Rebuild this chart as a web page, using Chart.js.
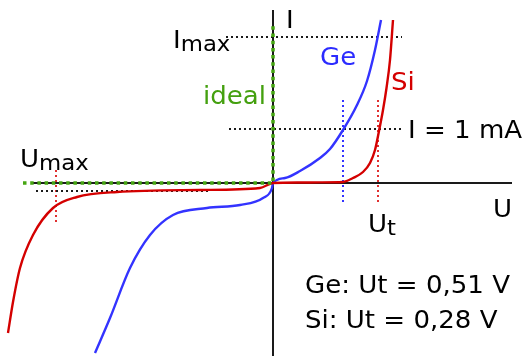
<!DOCTYPE html>
<html>
<head>
<meta charset="utf-8">
<script src="https://cdn.jsdelivr.net/npm/chart.js@4.4.1/dist/chart.umd.min.js"></script>
<style>
  body { margin: 0; background: #fff; }
  canvas { display: block; }
</style>
</head>
<body>
<canvas id="diode" width="524" height="356"></canvas>
<script>
// coordinates: U to the right, I upward, origin where the axes cross
var geU = [-178, -163, -143, -123, -100, -66, -33, -10, -1, 0, 12, 27, 47, 57, 70, 84, 94, 102, 108];
var geI = [-170, -135, -85, -52, -32, -25, -22, -15, -5, 0, 5, 12, 25, 34, 53, 78, 102, 133, 163];

var siU = [-265, -260, -253, -240, -220, -196, -156, -73, -13, 0, 27, 47, 70, 80, 90, 97, 102, 106, 110, 113.5, 117, 120];
var siI = [-150, -119, -85, -52, -25, -14, -9, -7, -5, 0, 0.5, 0.6, 1, 5, 11, 20, 33, 52, 73, 95, 123, 163];

// ideal diode: flat at zero for negative U, vertical at U = 0
var idealU = [-250, 0, 0];
var idealI = [0, 0, 160];

// dashed helper lines
var iMax = 146;     // I max level
var i1mA = 54;      // I = 1 mA level
var utGe = 70;      // threshold Ge
var utSi = 105;     // threshold Si
var uMax = -217;    // U max (Si)
var siLeak = -8;    // Si reverse current level

var texts = [
  { t: 'I', u: 13, i: 155, c: '#000' },
  { t: 'I', sub: 'max', u: -100, i: 135, c: '#000' },
  { t: 'Ge', u: 47, i: 118, c: '#2b2bff' },
  { t: 'Si', u: 118, i: 93, c: '#d40000' },
  { t: 'ideal', u: -70, i: 79, c: '#44a00f' },
  { t: 'I = 1 mA', u: 135, i: 45, c: '#000' },
  { t: 'U', sub: 'max', u: -253, i: 16, c: '#000' },
  { t: 'U', u: 220, i: -34, c: '#000' },
  { t: 'U', sub: 't', u: 95, i: -49, c: '#000' },
  { t: 'Ge: Ut = 0,51 V', u: 32, i: -110, c: '#000' },
  { t: 'Si: Ut = 0,28 V', u: 32, i: -145, c: '#000' }
];

function pts(xs, ys) {
  return xs.map(function (x, k) { return { x: x, y: ys[k] }; });
}
function seg(x1, y1, x2, y2) {
  return [{ x: x1, y: y1 }, { x: x2, y: y2 }];
}

var textPlugin = {
  id: 'texts',
  afterDatasetsDraw: function (chart) {
    var ctx = chart.ctx, xs = chart.scales.x, ys = chart.scales.y;
    ctx.save();
    ctx.textBaseline = 'alphabetic';
    texts.forEach(function (l) {
      var px = xs.getPixelForValue(l.u), py = ys.getPixelForValue(l.i);
      ctx.save();
      ctx.translate(px, py);
      ctx.scale(1.085, 1);
      ctx.fillStyle = l.c;
      ctx.font = '24px "DejaVu Sans"';
      ctx.fillText(l.t, 0, 0);
      if (l.sub) {
        var w = ctx.measureText(l.t).width;
        ctx.font = '21px "DejaVu Sans"';
        ctx.fillText(l.sub, w, 3);
      }
      ctx.restore();
    });
    ctx.restore();
  }
};

var black = '#1a1a1a';
var dots = [2, 3];
new Chart(document.getElementById('diode'), {
  type: 'scatter',
  data: {
    datasets: [
      { data: seg(-240, 0, 239, 0), borderColor: black, borderWidth: 2, order: 10 },
      { data: seg(0, 173, 0, -173), borderColor: black, borderWidth: 2, order: 10 },
      { data: seg(-47, iMax, 129, iMax), borderColor: black, borderWidth: 2, borderDash: dots, order: 8 },
      { data: seg(-44, i1mA, 131, i1mA), borderColor: black, borderWidth: 2, borderDash: dots, order: 8 },
      { data: seg(-237, siLeak, -63, siLeak), borderColor: black, borderWidth: 2, borderDash: dots, order: 8 },
      { data: seg(utGe, 83, utGe, -22), borderColor: '#3333ff', borderWidth: 2, borderDash: dots, order: 8 },
      { data: seg(utSi, 83, utSi, -22), borderColor: '#e03030', borderWidth: 2, borderDash: dots, order: 8 },
      { data: seg(uMax, 13, uMax, -41), borderColor: '#e03030', borderWidth: 2, borderDash: dots, order: 8 },
      { data: pts(geU, geI), borderColor: '#3333ff', borderWidth: 2.4, cubicInterpolationMode: 'monotone', order: 5 },
      { data: pts(siU, siI), borderColor: '#d40000', borderWidth: 2.4, cubicInterpolationMode: 'monotone', order: 4 },
      { data: pts(idealU, idealI), borderColor: '#45a612', borderWidth: 3.5, borderDash: [3.5, 3.7], order: 1 }
    ].map(function (d) {
      d.showLine = true;
      d.pointRadius = 0;
      d.fill = false;
      return d;
    })
  },
  options: {
    responsive: false,
    animation: false,
    layout: { padding: 0 },
    plugins: { legend: { display: false }, tooltip: { enabled: false } },
    scales: {
      x: { type: 'linear', min: -273, max: 251, display: false },
      y: { type: 'linear', min: -173, max: 183, display: false }
    }
  },
  plugins: [textPlugin]
});
</script>
</body>
</html>
